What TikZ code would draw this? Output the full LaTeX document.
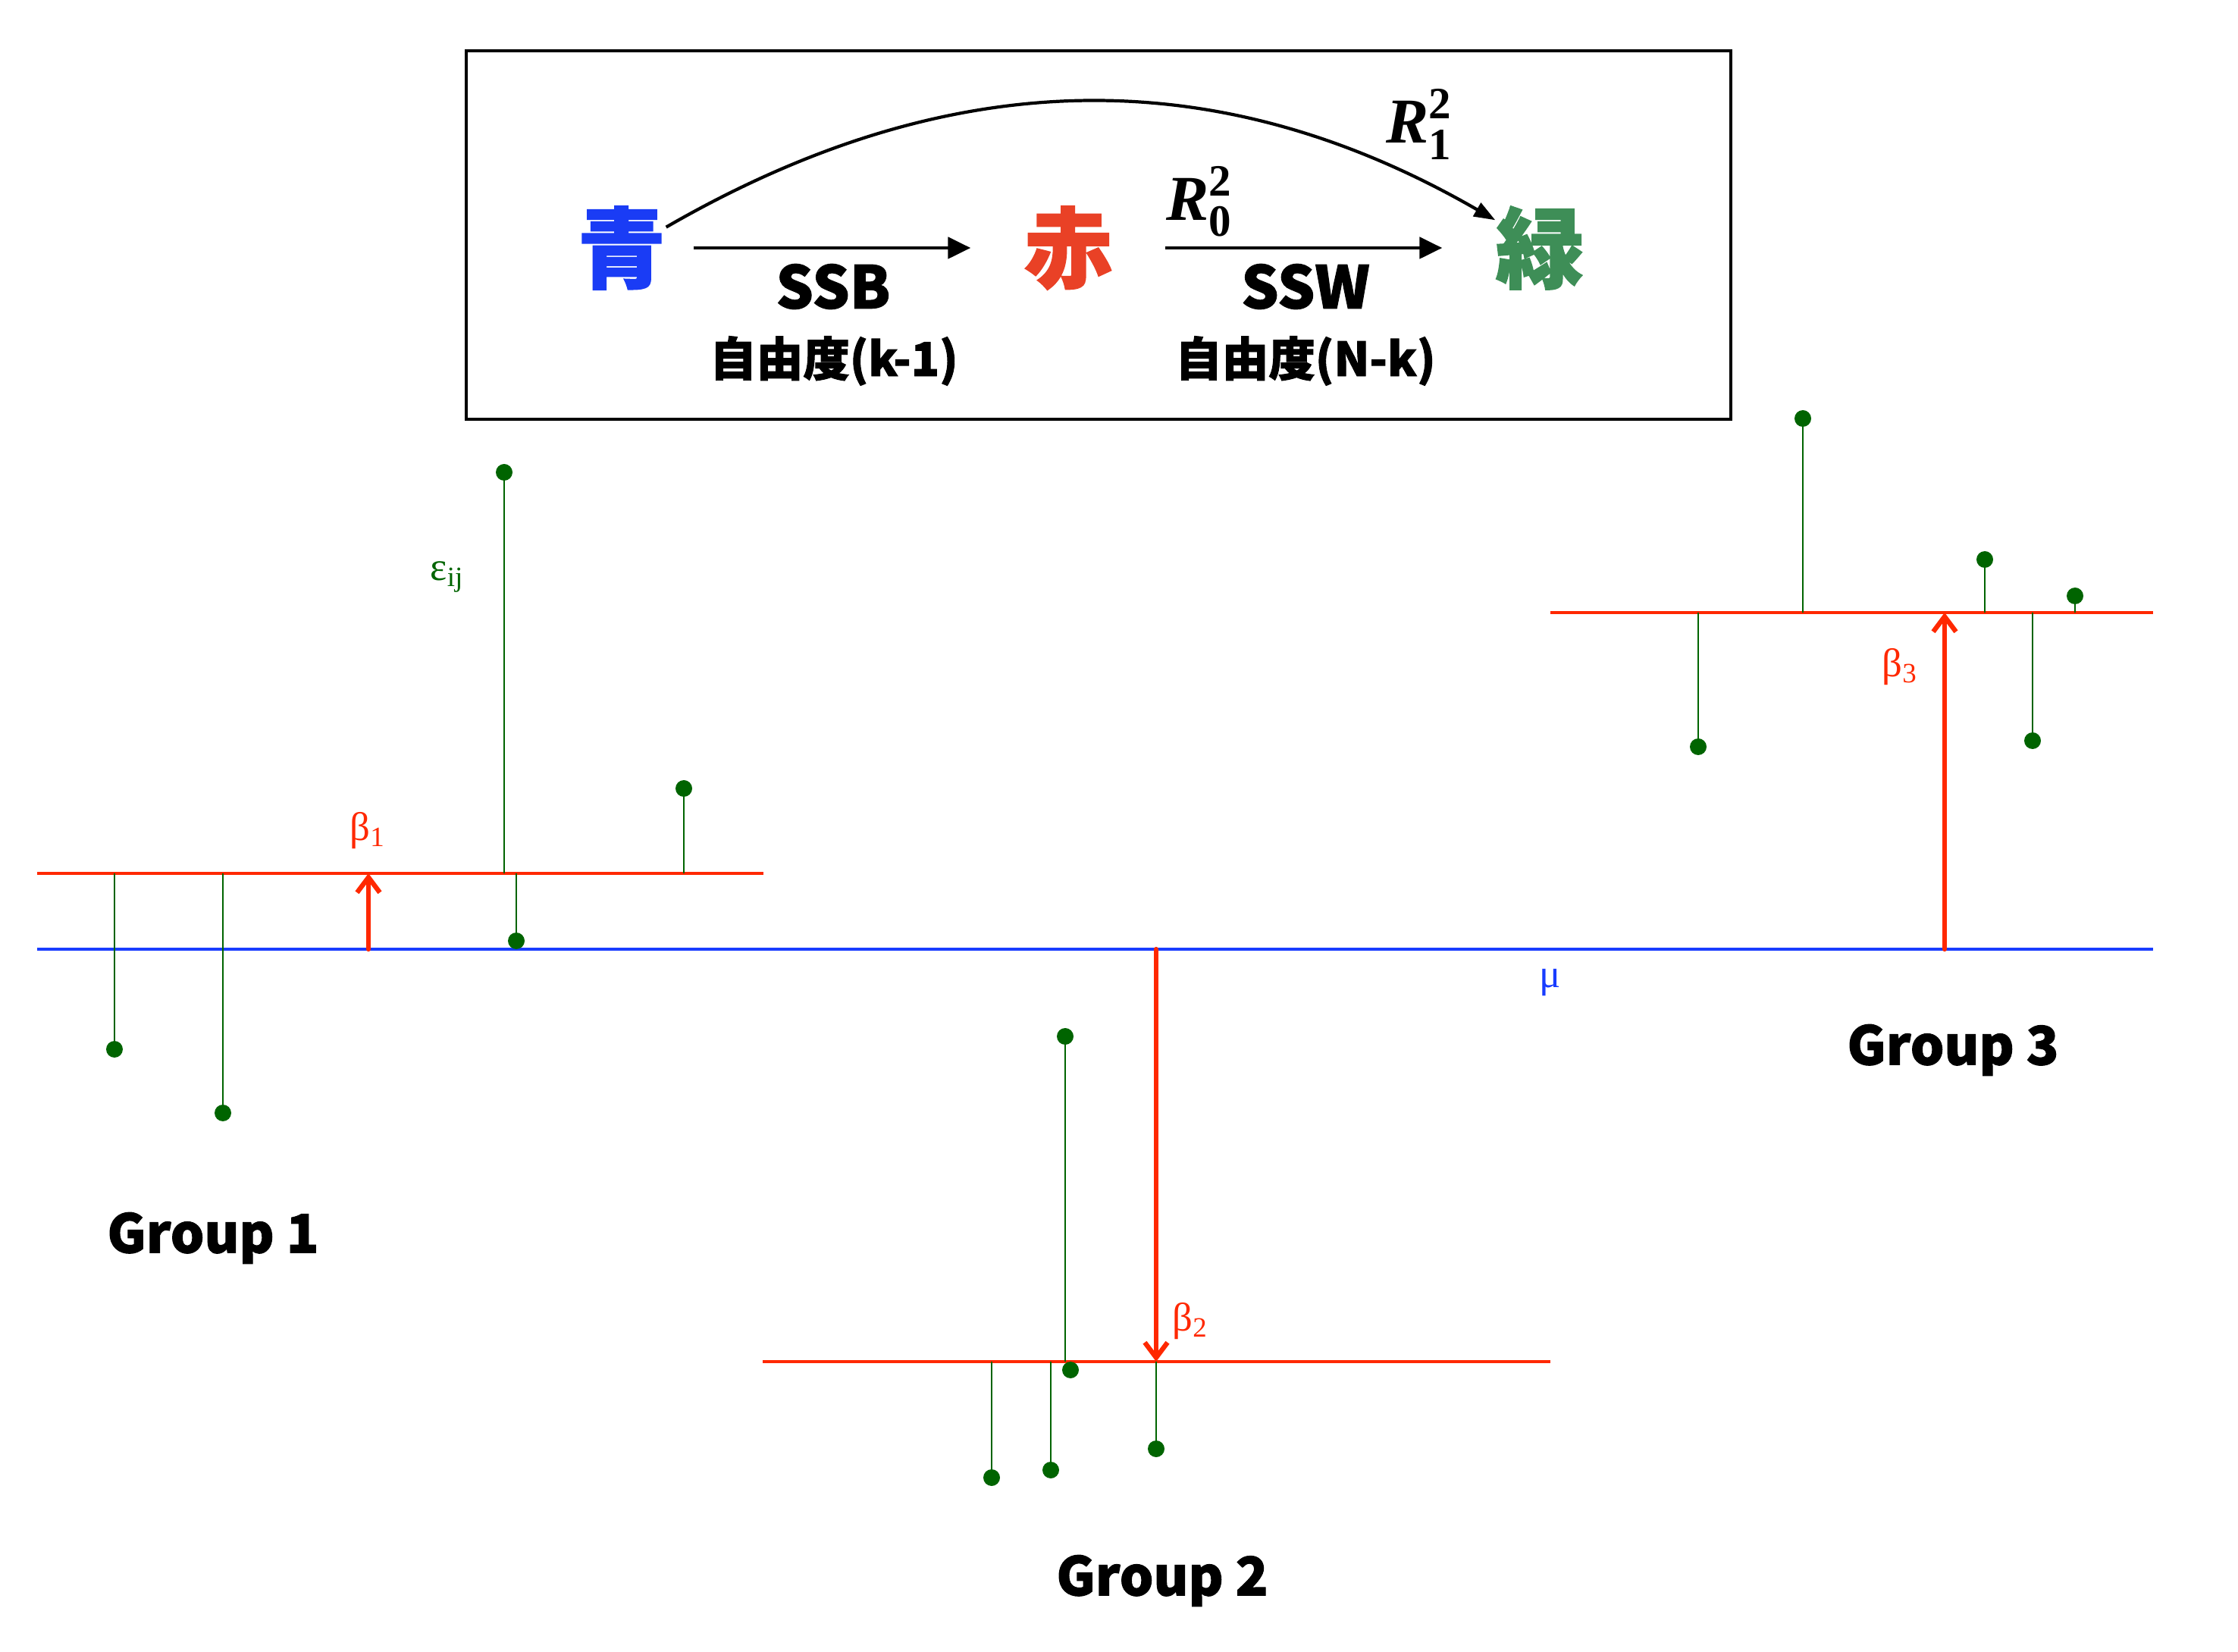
\documentclass[tikz,border=0pt]{standalone}
\usepackage{amsmath}
\usepackage{fontspec}
\usepackage{xcolor}
\usepackage{tikz}
\usetikzlibrary{arrows.meta}
\newfontfamily\jpfont{Noto Sans CJK JP}[BoldFeatures={FakeBold=1.5}]
\newfontfamily\grfont{Liberation Serif}
\definecolor{aoblue}{RGB}{26,60,245}
\definecolor{akared}{RGB}{233,65,38}
\definecolor{midorigreen}{RGB}{62,142,87}
\definecolor{linered}{RGB}{255,40,0}
\definecolor{lineblue}{RGB}{25,60,255}
\definecolor{residgreen}{RGB}{0,100,0}
\newcommand{\rsq}[1]{{\text{\grfont\bfseries\itshape R}}^{\text{\grfont\bfseries 2}}_{\text{\grfont\bfseries #1}}}
\tikzset{
	meanline/.style={lineblue, line width=1pt},
	grpline/.style={linered, line width=1pt},
	effect/.style={linered, line width=1.8pt, line cap=round, -{Straight Barb[length=0.2cm,width=0.3cm]}},
	resid/.style={residgreen, line width=0.8pt},
	flow/.style={line width=1.4pt, -{Triangle[length=0.3cm,width=0.28cm]}},
	curveflow/.style={line width=1.2pt, -{Triangle[length=0.28cm,width=0.2cm]}},
	kanji/.style={font=\jpfont\bfseries\fontsize{33}{33}\selectfont, inner sep=0pt},
	sumsq/.style={font=\jpfont\bfseries\fontsize{22}{22}\selectfont, inner sep=0pt},
	dof/.style={font=\jpfont\bfseries\fontsize{17.5}{17.5}\selectfont, inner sep=0pt},
	rlabel/.style={font=\fontsize{24}{24}\selectfont, inner sep=0pt},
	glabel/.style={font=\grfont\fontsize{15}{15}\selectfont, inner sep=0pt},
	grouplabel/.style={font=\jpfont\bfseries\fontsize{20}{20}\selectfont, inner sep=0pt}
}
\begin{document}
\begin{tikzpicture}
	\useasboundingbox (0,0) rectangle (29.52,21.78);
	% 上の枠
	\draw[line width=1.4pt] (6.15,16.25) rectangle (22.83,21.11);
	\node[kanji, text=aoblue] (ao) at (8.20,18.51) {青};
	\node[kanji, text=akared] (aka) at (14.09,18.51) {赤};
	\node[kanji, text=midorigreen] (midori) at (20.31,18.51) {緑};
	\draw[flow, shorten <=0.36cm, shorten >=0.70cm] (ao.east) -- (aka.west);
	\draw[flow, shorten <=0.69cm, shorten >=0.70cm] (aka.east) -- (midori.west);
	\draw[curveflow] (ao.25) to[out=30, in=150] (midori.148);
	\node[sumsq] (ssb) at (10.99,18.00) {SSB};
	\node[sumsq] (ssw) at (17.22,18.00) {SSW};
	\node[dof] (dofb) at (11.00,17.02) {自由度(k-1)};
	\node[dof] (dofw) at (17.22,17.02) {自由度(N-k)};
	\node[rlabel] (r0) at (15.82,19.12) {$\rsq{0}$};
	\node[rlabel] (r1) at (18.72,20.14) {$\rsq{1}$};
	
	% 全体平均
	\coordinate (mul) at (0.49,9.26);
	\coordinate (mur) at (28.40,9.26);
	\draw[meanline] (mul) -- (mur);
	% 各群の平均
	\coordinate (g1l) at (0.49,10.26);
	\coordinate (g1r) at (10.07,10.26);
	\coordinate (g2l) at (10.06,3.82);
	\coordinate (g2r) at (20.45,3.82);
	\coordinate (g3l) at (20.45,13.70);
	\coordinate (g3r) at (28.40,13.70);
	\draw[grpline] (g1l) -- (g1r);
	\draw[grpline] (g2l) -- (g2r);
	\draw[grpline] (g3l) -- (g3r);
	% 観測値
	\coordinate (y11) at (1.51,7.94);
	\coordinate (y12) at (2.94,7.10);
	\coordinate (y13) at (6.65,15.55);
	\coordinate (y14) at (6.81,9.37);
	\coordinate (y15) at (9.02,11.38);
	\coordinate (y21) at (13.08,2.29);
	\coordinate (y22) at (13.86,2.39);
	\coordinate (y23) at (14.05,8.11);
	\coordinate (y24) at (14.12,3.71);
	\coordinate (y25) at (15.25,2.67);
	\coordinate (y31) at (22.40,11.93);
	\coordinate (y32) at (23.78,16.26);
	\coordinate (y33) at (26.18,14.40);
	\coordinate (y34) at (26.81,12.01);
	\coordinate (y35) at (27.37,13.92);
	\foreach \p/\g in {y11/g1l, y12/g1l, y13/g1l, y14/g1l, y15/g1l,
		y21/g2l, y22/g2l, y23/g2l, y24/g2l, y25/g2l,
		y31/g3l, y32/g3l, y33/g3l, y34/g3l, y35/g3l}
		\draw[resid] (\p |- \g) -- (\p);
	\foreach \p in {y11, y12, y13, y14, y15, y21, y22, y23, y24, y25, y31, y32, y33, y34, y35}
		\fill[residgreen] (\p) circle (0.11);
	% 群の効果
	\coordinate (b1) at (4.86,9.26);
	\coordinate (b2) at (15.25,9.26);
	\coordinate (b3) at (25.65,9.26);
	\draw[effect] (b1) -- (b1 |- g1l);
	\draw[effect] (b2) -- (b2 |- g2l);
	\draw[effect] (b3) -- (b3 |- g3l);
	% ラベル
	\node[glabel, text=residgreen] (eps) at (5.90,14.17) {ε\textsubscript{ij}};
	\node[glabel, text=linered] (beta1) at (4.85,10.82) {β\textsubscript{1}};
	\node[glabel, text=linered] (beta2) at (15.70,4.35) {β\textsubscript{2}};
	\node[glabel, text=linered] (beta3) at (25.06,12.98) {β\textsubscript{3}};
	\node[glabel, text=lineblue] (mu) at (20.45,8.82) {μ};
	\node[grouplabel] (grp1) at (2.81,5.45) {Group 1};
	\node[grouplabel] (grp2) at (15.33,0.93) {Group 2};
	\node[grouplabel] (grp3) at (25.76,7.93) {Group 3};
\end{tikzpicture}
\end{document}
